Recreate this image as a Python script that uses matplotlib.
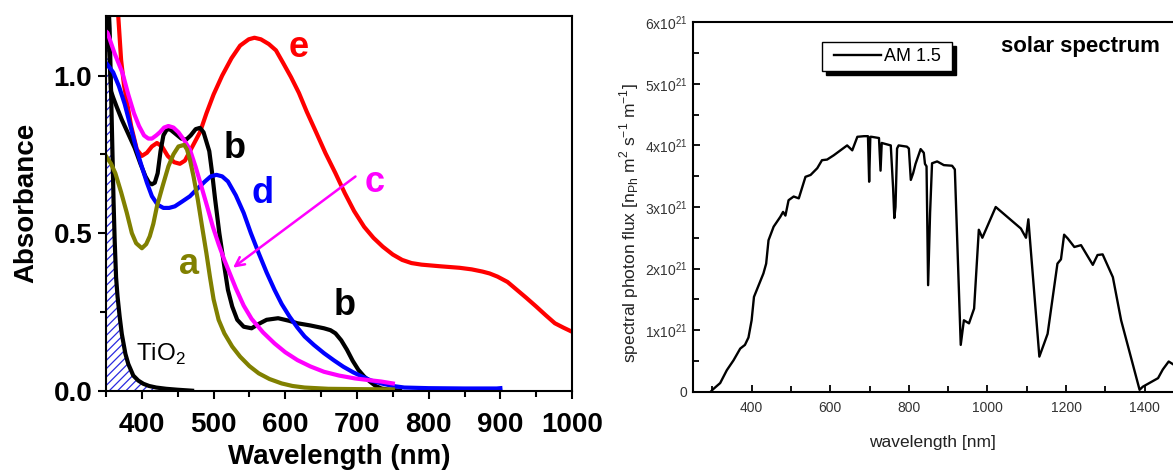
import matplotlib
matplotlib.use("Agg")
import matplotlib.pyplot as plt
from matplotlib.ticker import FixedLocator, MultipleLocator, FuncFormatter
from matplotlib.legend_handler import HandlerLine2D

plt.rcParams['font.family'] = ['Liberation Sans', 'DejaVu Sans']
plt.rcParams['mathtext.fontset'] = 'custom'
plt.rcParams['mathtext.rm'] = 'Liberation Sans'
plt.rcParams['hatch.linewidth'] = 0.9

# ------------------------------
# (a) absorbance spectra
# ------------------------------
tio2_wl = [350, 352, 355, 357, 359, 360.5, 362, 364, 366, 369, 372, 377, 381, 388, 395, 402,
           410, 420, 434, 450, 470]
tio2_abs = [1.6, 1.3, 1.15, 0.95, 0.75, 0.6, 0.48, 0.36, 0.3, 0.235, 0.18, 0.117, 0.085, 0.048,
            0.032, 0.022, 0.015, 0.01, 0.006, 0.003, 0.0]

a_wl = [350, 357, 363, 371, 379, 386, 392, 400, 406, 411, 416, 421, 429, 437, 444, 451, 459,
        463, 467, 472, 478, 484, 490, 495, 500, 507, 515, 526, 537, 550, 563, 578, 595, 610,
        627, 660, 700, 750]
a_abs = [0.744, 0.72, 0.69, 0.63, 0.564, 0.5, 0.468, 0.452, 0.465, 0.49, 0.53, 0.585, 0.65,
         0.712, 0.75, 0.775, 0.78, 0.765, 0.733, 0.68, 0.606, 0.52, 0.436, 0.36, 0.29, 0.225,
         0.182, 0.14, 0.108, 0.078, 0.055, 0.037, 0.023, 0.015, 0.01, 0.006, 0.005, 0.004]

b_wl = [351, 354, 357, 360, 365, 372, 380, 390, 398, 405, 410, 414, 418, 422, 426, 430, 435,
        440, 447, 455, 462, 468, 475, 481, 486, 490, 494, 498, 502, 508, 515, 520, 526, 533,
        542, 553, 563, 574, 590, 605, 617, 635, 654, 663, 670, 678, 686, 694, 702, 710, 718,
        726, 734, 745, 760]
b_abs = [1.5, 1.1, 0.95, 0.93, 0.9, 0.86, 0.82, 0.77, 0.72, 0.68, 0.66, 0.655, 0.66, 0.69,
         0.76, 0.81, 0.83, 0.828, 0.815, 0.8, 0.797, 0.81, 0.83, 0.834, 0.82, 0.79, 0.76, 0.69,
         0.61, 0.5, 0.394, 0.32, 0.267, 0.225, 0.203, 0.198, 0.212, 0.225, 0.23, 0.222, 0.214,
         0.207, 0.198, 0.192, 0.182, 0.16, 0.13, 0.095, 0.066, 0.045, 0.029, 0.015, 0.007,
         0.003, 0.0]

c_wl = [350, 352, 362, 373, 381, 389, 396, 403, 409, 414, 420, 425, 431, 437, 444, 451, 459,
        467, 475, 483, 491, 499, 507, 515, 523, 531, 542, 553, 569, 585, 600, 617, 635, 654,
        675, 697, 715, 734, 750]
c_abs = [1.14, 1.136, 1.07, 1.008, 0.94, 0.88, 0.84, 0.81, 0.8, 0.8, 0.81, 0.82, 0.835, 0.84,
         0.835, 0.82, 0.795, 0.765, 0.71, 0.648, 0.585, 0.52, 0.465, 0.415, 0.37, 0.325, 0.27,
         0.228, 0.185, 0.15, 0.122, 0.097, 0.077, 0.06, 0.048, 0.039, 0.034, 0.029, 0.023]

d_wl = [350, 352, 360, 368, 376, 384, 392, 400, 407, 414, 422, 430, 438, 446, 456, 467, 477,
        488, 496, 504, 512, 520, 531, 542, 552, 563, 574, 585, 595, 606, 617, 627, 640, 654,
        668, 681, 695, 708, 720, 734, 750, 766, 800, 850, 895, 900]
d_abs = [1.04, 1.035, 1.01, 0.966, 0.91, 0.84, 0.77, 0.71, 0.66, 0.617, 0.59, 0.58, 0.58,
         0.585, 0.6, 0.617, 0.64, 0.664, 0.68, 0.685, 0.68, 0.664, 0.62, 0.564, 0.5, 0.436,
         0.375, 0.32, 0.275, 0.235, 0.2, 0.172, 0.145, 0.119, 0.096, 0.076, 0.058, 0.044,
         0.032, 0.023, 0.015, 0.01, 0.008, 0.007, 0.007, 0.008]

e_wl = [358, 363, 367, 371, 375, 379, 385, 393, 400, 407, 414, 421, 428, 436, 445, 453, 460,
        467, 474, 481, 490, 500, 512, 525, 537, 549, 557, 566, 577, 587, 597, 608, 619, 630,
        643, 656, 670, 683, 696, 710, 723, 736, 750, 763, 776, 790, 815, 843, 860, 875, 885,
        896, 910, 923, 936, 950, 963, 976, 988, 1000]
e_abs = [1.6, 1.3, 1.19, 1.05, 0.97, 0.92, 0.84, 0.765, 0.745, 0.755, 0.775, 0.786, 0.775,
         0.745, 0.725, 0.72, 0.73, 0.76, 0.79, 0.82, 0.88, 0.94, 1.0, 1.055, 1.095, 1.115,
         1.12, 1.115, 1.1, 1.08, 1.04, 0.995, 0.945, 0.885, 0.82, 0.754, 0.69, 0.627, 0.57,
         0.52, 0.485, 0.457, 0.432, 0.415, 0.405, 0.4, 0.395, 0.39, 0.385, 0.378, 0.372,
         0.362, 0.345, 0.32, 0.295, 0.267, 0.24, 0.214, 0.2, 0.187]

abs_xticks = [400, 500, 600, 700, 800, 900, 1000]
abs_yticks = [0.0, 0.5, 1.0]

# ------------------------------
# (b) AM 1.5 solar photon flux (units of 1e21)
# ------------------------------
sol_wl = [296, 302, 320, 337, 354, 371, 383, 392, 400, 406, 418, 430, 437, 443, 456, 473,
          480, 486, 494, 507, 520, 537, 550, 567, 579, 592, 609, 626, 643, 656, 669, 686,
          696, 699, 702, 705, 724, 728, 731, 754, 760, 763, 766, 770, 774, 795, 800, 805,
          811, 817, 830, 838, 841, 845, 849, 854, 859, 872, 889, 910, 917, 932, 940, 953,
          966, 978, 987, 1021, 1085, 1098, 1104, 1110, 1132, 1144, 1153, 1178, 1187, 1195,
          1204, 1221, 1238, 1268, 1280, 1293, 1319, 1340, 1387, 1395, 1434, 1446, 1461, 1476]
sol_flux = [0.0, 0.04, 0.14, 0.35, 0.51, 0.7, 0.76, 0.88, 1.16, 1.54, 1.73, 1.92, 2.08, 2.46,
            2.68, 2.84, 2.92, 2.86, 3.11, 3.17, 3.14, 3.49, 3.52, 3.63, 3.76, 3.77, 3.84,
            3.92, 4.0, 3.92, 4.14, 4.15, 4.15, 3.41, 4.14, 4.14, 4.12, 3.59, 4.04, 4.0, 3.3,
            2.82, 3.0, 3.95, 4.0, 3.98, 3.95, 3.44, 3.55, 3.7, 3.94, 3.88, 3.7, 3.66, 1.73,
            2.9, 3.71, 3.74, 3.68, 3.67, 3.61, 0.76, 1.16, 1.11, 1.35, 2.63, 2.5, 3.0, 2.65,
            2.5, 2.8, 2.32, 0.57, 0.78, 0.94, 2.08, 2.15, 2.55, 2.49, 2.35, 2.38, 2.06, 2.22,
            2.23, 1.86, 1.16, 0.03, 0.08, 0.22, 0.36, 0.49, 0.43]
sol_xticks = [400, 600, 800, 1000, 1200, 1400]
sol_yticks = [0, 1, 2, 3, 4, 5, 6]

fig = plt.figure(figsize=(11.73, 4.71), dpi=100)

# ---------- left panel ----------
ax1 = fig.add_axes([0.0904, 0.1705, 0.3973, 0.7962])
ax1.fill_between(tio2_wl, 0, tio2_abs, facecolor='white', edgecolor='#2a2ae0',
                 hatch='////', linewidth=0)
ax1.plot(tio2_wl, tio2_abs, color='black', lw=3)
ax1.plot(e_wl, e_abs, color='#ff0000', lw=3)
ax1.plot(b_wl, b_abs, color='black', lw=3)
ax1.plot(d_wl, d_abs, color='#0000ff', lw=3)
ax1.plot(c_wl, c_abs, color='#ff00ff', lw=3)
ax1.plot(a_wl, a_abs, color='#808000', lw=3)

ax1.set_xlim(350, 1000)
ax1.set_ylim(0, 1.19)
ax1.xaxis.set_major_locator(FixedLocator(abs_xticks))
ax1.xaxis.set_minor_locator(MultipleLocator(50))
ax1.yaxis.set_major_locator(FixedLocator(abs_yticks))
ax1.yaxis.set_minor_locator(MultipleLocator(0.25))
ax1.yaxis.set_major_formatter(FuncFormatter(lambda v, p: f"{v:.1f}"))
ax1.tick_params(which='both', direction='out', top=False, right=False, width=1.5,
                labelsize=20)
ax1.tick_params(which='major', length=6)
ax1.tick_params(which='minor', length=4)
ax1.tick_params(axis='x', pad=9)
ax1.tick_params(axis='y', pad=4)
for lab in ax1.get_xticklabels() + ax1.get_yticklabels():
    lab.set_fontweight('bold')
for sp in ax1.spines.values():
    sp.set_linewidth(1.5)
ax1.set_xlabel("Wavelength (nm)", fontsize=20, fontweight='bold', labelpad=5)
ax1.set_ylabel("Absorbance", fontsize=20, fontweight='bold', labelpad=10)

# curve labels
lbl = dict(fontsize=26, fontweight='bold', ha='center', va='center')
ax1.text(619, 1.09, "e", color='#ff0000', **lbl)
ax1.text(530, 0.77, "b", color='black', **lbl)
ax1.text(568, 0.625, "d", color='#0000ff', **lbl)
ax1.text(725, 0.66, "c", color='#ff00ff', **lbl)
ax1.text(466, 0.40, "a", color='#808000', **lbl)
ax1.text(683, 0.27, "b", color='black', **lbl)
ax1.text(392, 0.115, "TiO$_2$", fontsize=17.5, ha='left', va='center')
ax1.annotate("", xy=(524, 0.385), xytext=(701, 0.685),
             arrowprops=dict(arrowstyle='->', color='#ff00ff', lw=1.8,
                             mutation_scale=16))

# ---------- right panel ----------
ax2 = fig.add_axes([0.5905, 0.1684, 0.4095, 0.7843])
am_line, = ax2.plot(sol_wl, sol_flux, color='black', lw=1.7, label='AM 1.5 ')
ax2.set_xlim(250, 1472)
ax2.set_ylim(0, 6)
ax2.xaxis.set_major_locator(FixedLocator(sol_xticks))
ax2.xaxis.set_minor_locator(MultipleLocator(100))
ax2.yaxis.set_major_locator(FixedLocator(sol_yticks))
ax2.yaxis.set_minor_locator(MultipleLocator(0.5))


def flux_fmt(v, pos):
    if v == 0:
        return "0"
    return f"{int(v)}x10$^{{\\mathregular{{21}}}}$"


ax2.yaxis.set_major_formatter(FuncFormatter(flux_fmt))
ax2.tick_params(which='both', direction='in', top=False, right=False, width=1.3,
                labelsize=10, labelcolor='#333333')
ax2.tick_params(which='major', length=5)
ax2.tick_params(which='minor', length=4)
ax2.tick_params(axis='x', pad=7)
ax2.tick_params(axis='y', pad=4)
for sp in ax2.spines.values():
    sp.set_linewidth(1.5)
ax2.spines['right'].set_visible(False)
ax2.set_xlabel("wavelength [nm]", fontsize=12.5, color='#222222', labelpad=14)
ax2.set_ylabel(r"spectral photon flux [n$_{\mathregular{Ph}}$ m$^{\mathregular{2}}$ "
               r"s$^{\mathregular{-1}}$ m$^{\mathregular{-1}}$]",
               fontsize=12.5, color='#222222')
ax2.yaxis.set_label_coords(-0.108, 0.457)

ax2.legend(loc='upper left', bbox_to_anchor=(0.2686, 0.9475), borderaxespad=0,
           fontsize=13, frameon=True, fancybox=False, edgecolor='black', framealpha=1,
           handlelength=2.95, handletextpad=0.15, borderpad=0.35,
           handler_map={am_line: HandlerLine2D(xpad=0.35)},
           shadow={'color': 'black', 'alpha': 1, 'ox': 3, 'oy': -3})
ax2.text(0.808, 0.934, "solar spectrum", transform=ax2.transAxes, fontsize=16,
         fontweight='bold', ha='center', va='center')

fig.savefig("out.png", dpi=100)
